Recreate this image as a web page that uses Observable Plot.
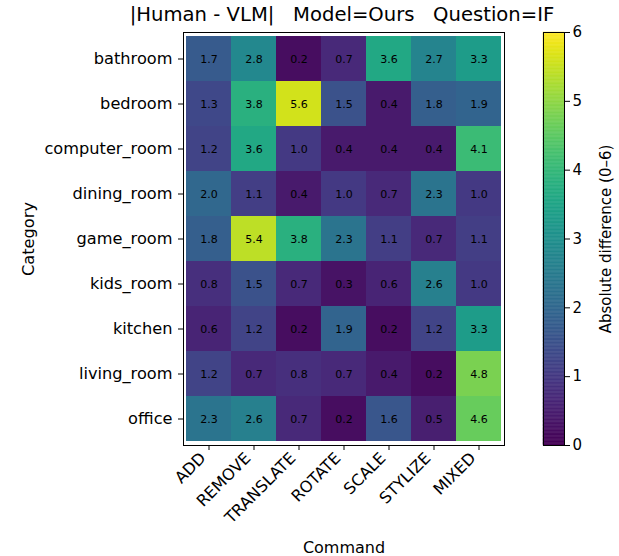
<!DOCTYPE html>
<html>
<head>
<meta charset="utf-8">
<script src="https://cdn.jsdelivr.net/npm/d3@7"></script>
<script src="https://cdn.jsdelivr.net/npm/@observablehq/plot@0.6"></script>
<style>
  body { margin: 0; background: #fff; font-family: "DejaVu Sans", sans-serif; }
  #wrap { position: relative; width: 619px; height: 556px; }
  #wrap svg { position: absolute; left: 0; top: 0; }
  #title { position: absolute; left: 0; width: 684px; top: 3px; text-align: center; font-size: 19.6px; color: #000; white-space: pre; }
</style>
</head>
<body>
<div id="wrap"><div id="title"></div></div>
<script>
const titleText = "|Human - VLM|   Model=Ours   Question=IF";
const commands = ["ADD", "REMOVE", "TRANSLATE", "ROTATE", "SCALE", "STYLIZE", "MIXED"];
const categories = ["bathroom", "bedroom", "computer_room", "dining_room", "game_room", "kids_room", "kitchen", "living_room", "office"];
const values = [
  [1.7, 2.8, 0.2, 0.7, 3.6, 2.7, 3.3],
  [1.3, 3.8, 5.6, 1.5, 0.4, 1.8, 1.9],
  [1.2, 3.6, 1.0, 0.4, 0.4, 0.4, 4.1],
  [2.0, 1.1, 0.4, 1.0, 0.7, 2.3, 1.0],
  [1.8, 5.4, 3.8, 2.3, 1.1, 0.7, 1.1],
  [0.8, 1.5, 0.7, 0.3, 0.6, 2.6, 1.0],
  [0.6, 1.2, 0.2, 1.9, 0.2, 1.2, 3.3],
  [1.2, 0.7, 0.8, 0.7, 0.4, 0.2, 4.8],
  [2.3, 2.6, 0.7, 0.2, 1.6, 0.5, 4.6]
];
const colorTicks = [0, 1, 2, 3, 4, 5, 6];
const colorLabel = "Absolute difference (0–6)";

const cells = [];
categories.forEach((c, i) => commands.forEach((m, j) => cells.push({category: c, command: m, value: values[i][j]})));

const W = 619, H = 556;
const font = "DejaVu Sans, sans-serif";
const FS = 16;

const main = Plot.plot({
  width: W, height: H,
  marginLeft: 183, marginRight: 115, marginTop: 32, marginBottom: 111,
  style: {fontFamily: font, fontSize: FS + "px", color: "#000", background: "transparent"},
  x: {domain: commands, padding: 0},
  y: {domain: categories, padding: 0},
  color: {type: "linear", scheme: "viridis", domain: [0, 6]},
  marks: [
    Plot.cell(cells, {x: "command", y: "category", fill: "value"}),
    Plot.text(cells, {x: "command", y: "category", text: d => d.value.toFixed(1), fill: "#000", fontSize: 11}),
    Plot.frame({stroke: "#000", strokeWidth: 1}),
    Plot.axisX({tickSize: 5, tickFormat: null, label: null}),
    Plot.axisX({tickRotate: -45, tickSize: 0, tickPadding: 7, dx: -6, dy: 3, label: "Command", labelAnchor: "center", labelArrow: "none", labelOffset: 107, fontSize: FS}),
    Plot.axisY({tickSize: 5, tickPadding: 6, label: "Category", labelAnchor: "center", labelArrow: "none", labelOffset: 161, fontSize: 16.2})
  ]
});

const ramp = d3.range(0, 6, 0.02).map(v => ({v0: v, v1: v + 0.02}));
const bar = Plot.plot({
  width: W, height: H,
  marginLeft: 543, marginRight: 55, marginTop: 32, marginBottom: 111,
  style: {fontFamily: font, fontSize: FS + "px", color: "#000", background: "transparent"},
  x: {domain: [0, 1], axis: null},
  y: {domain: [0, 6], ticks: colorTicks},
  color: {type: "linear", scheme: "viridis", domain: [0, 6]},
  marks: [
    Plot.rectY(ramp, {x1: 0, x2: 1, y1: "v0", y2: "v1", fill: "v0", stroke: "v0", strokeWidth: 0.5}),
    Plot.frame({stroke: "#000", strokeWidth: 1}),
    Plot.axisY({anchor: "right", ticks: colorTicks, tickFormat: d3.format("d"), tickSize: 5, tickPadding: 3, label: colorLabel, labelAnchor: "center", labelArrow: "none", labelOffset: 46, fontSize: 15})
  ]
});

const wrap = document.getElementById("wrap");
document.getElementById("title").textContent = titleText;
wrap.appendChild(main);
wrap.appendChild(bar);
</script>
</body>
</html>
